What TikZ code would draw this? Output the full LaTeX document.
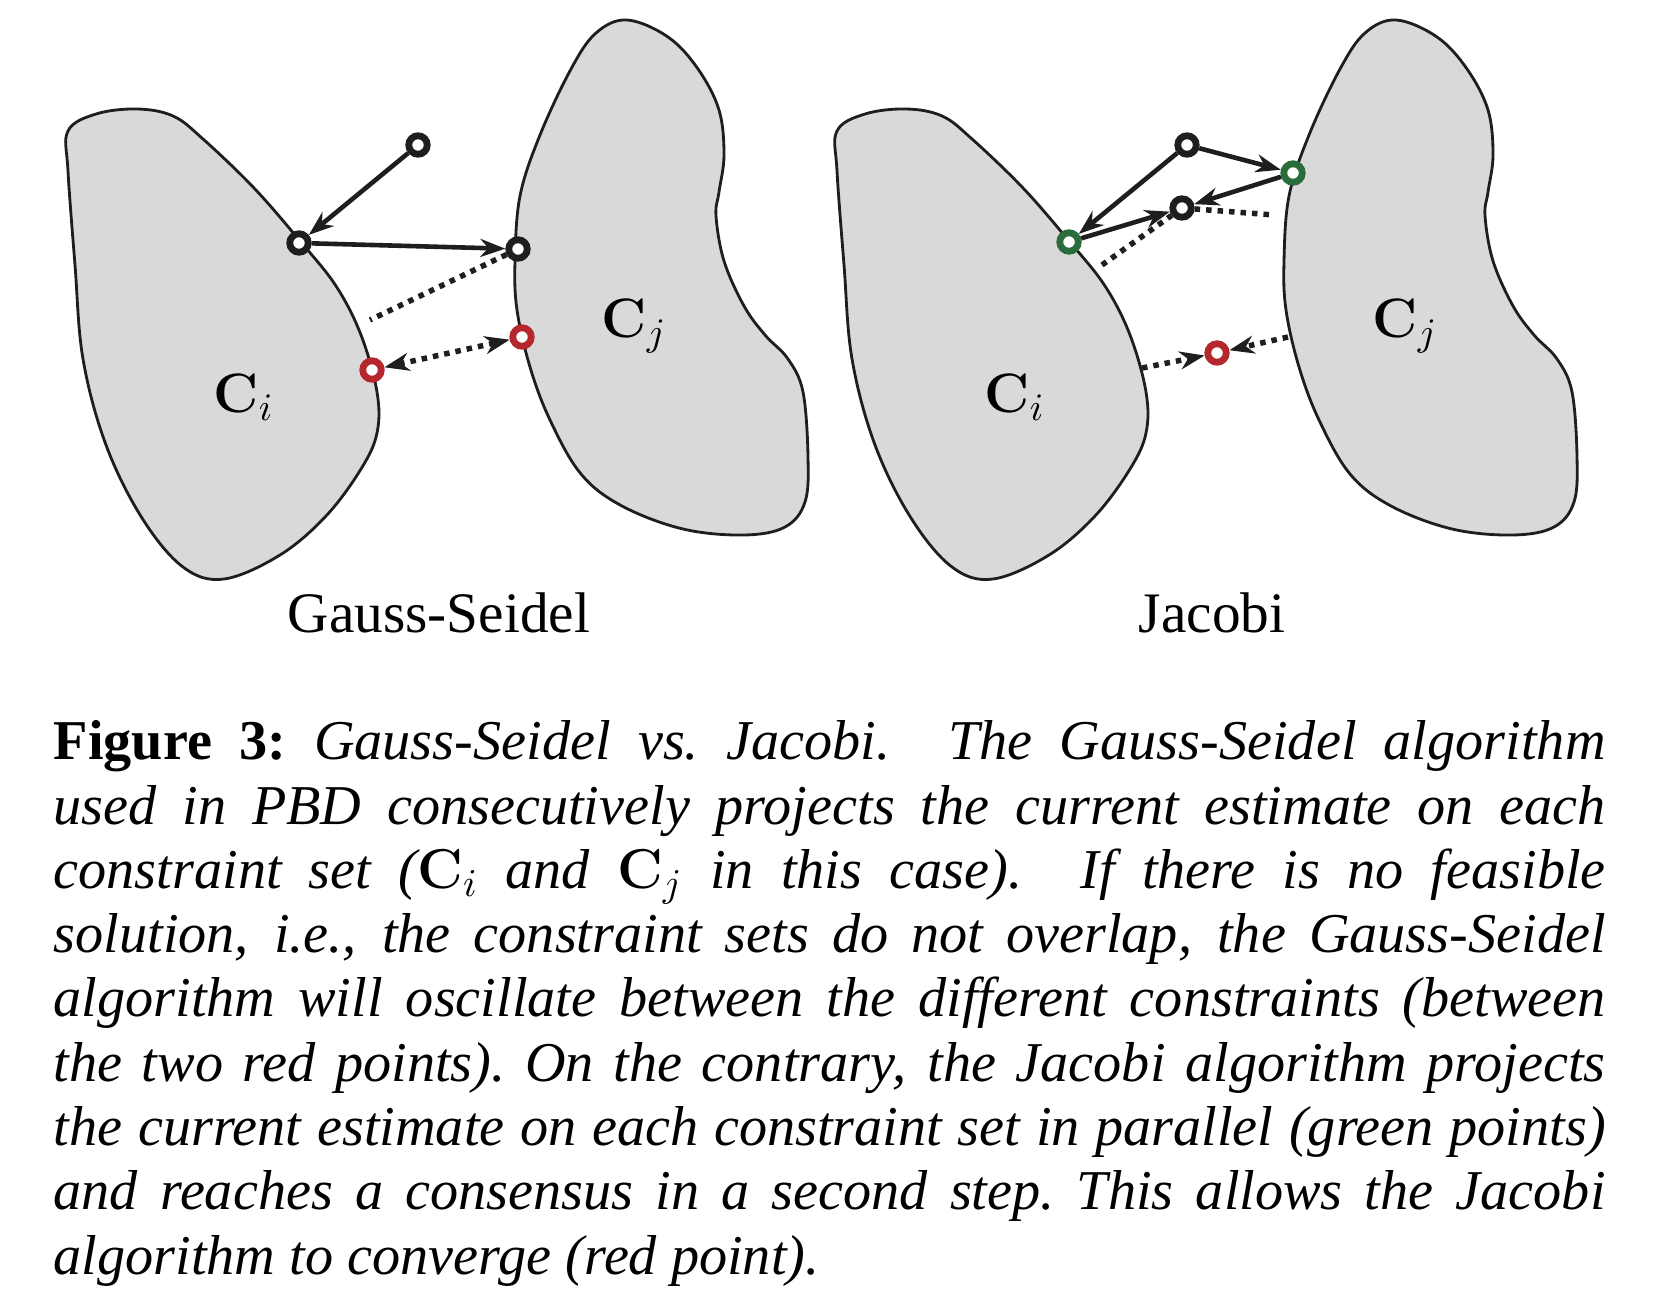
\RequirePackage{fix-cm}
\documentclass[tikz,border=0pt]{standalone}
\usepackage[no-math]{fontspec}
\setmainfont{Liberation Serif}
\usepackage{tikz}
\usetikzlibrary{calc, arrows.meta}
\tikzset{>={Stealth[length = 2.5mm, width = 1.8mm, inset = 0.8mm]}}
\definecolor{setgray}{RGB}{217, 217, 217}
\definecolor{ptred}{RGB}{180, 40, 45}
\definecolor{ptgreen}{RGB}{42, 108, 60}
\definecolor{ptblack}{RGB}{30, 30, 30}

\begin{document}
\begin{tikzpicture}[x = 0.1mm, y = -0.1mm,
  blob/.style = {draw = ptblack, fill = setgray, line width = 0.8pt},
  pt/.style = {circle, draw = ptblack, fill = white, line width = 0.68mm, minimum size = 1.85mm, inner sep = 0pt},
  proj/.style = {->, draw = ptblack, line width = 0.46mm},
  dots/.style = {draw = ptblack, line width = 0.55mm, dash pattern = on 0.55mm off 0.6mm},
  setlbl/.style = {anchor = base west, inner sep = 0pt, font = \fontsize{15.8}{19}\selectfont},
  title/.style = {anchor = base, inner sep = 0pt, font = \fontsize{16.3}{19}\selectfont}]
\useasboundingbox (0, 0) rectangle (1668, 1307);

% constraint sets C_i and C_j, same outlines in both panels
\foreach \dx in {0, 769} {
\draw[blob] plot[smooth cycle, tension = 0.6] coordinates {
  (68+\dx, 131) (96+\dx, 114) (137+\dx, 109) (173+\dx, 116) (203+\dx, 139)
  (254+\dx, 188) (300+\dx, 241) (336+\dx, 286) (361+\dx, 335) (377+\dx, 392)
  (377+\dx, 433) (361+\dx, 469) (326+\dx, 516) (280+\dx, 555) (224+\dx, 579)
  (183+\dx, 567) (142+\dx, 518) (106+\dx, 445) (83+\dx, 359) (75+\dx, 265)
  (68+\dx, 171)};
\draw[blob] plot[smooth cycle, tension = 0.6] coordinates {
  (627+\dx, 20) (668+\dx, 37) (698+\dx, 69) (719+\dx, 110) (724+\dx, 155)
  (719+\dx, 192) (716+\dx, 216) (724+\dx, 261) (744+\dx, 306) (765+\dx, 335)
  (788+\dx, 359) (803+\dx, 392) (808+\dx, 457) (805+\dx, 502) (785+\dx, 527)
  (744+\dx, 535) (683+\dx, 529) (622+\dx, 506) (581+\dx, 474) (550+\dx, 420)
  (530+\dx, 367) (517+\dx, 310) (515+\dx, 261) (520+\dx, 196) (540+\dx, 135)
  (571+\dx, 69) (596+\dx, 33)};
}

% Gauss-Seidel
\begin{scope}
\node[setlbl] (ci) at (213, 412) {$\mathbf{C}_i$};
\node[setlbl] (cj) at (601, 337) {$\mathbf{C}_j$};
\node[pt] (p0) at (418, 145) {};
\node[pt] (pi) at (299, 243) {};
\node[pt] (pj) at (518, 249) {};
\node[pt, draw = ptred] (ri) at (372, 370) {};
\node[pt, draw = ptred] (rj) at (522, 337) {};
\coordinate (gsend) at (370, 320);
\draw[proj] (p0) -- (pi);
\draw[proj] (pi) -- (pj);
\draw[dots] (pj) -- (gsend);
\draw[dots, <->] (ri) -- (rj);
\node[title] (gstitle) at (439, 632) {Gauss-Seidel};
\end{scope}

% Jacobi
\begin{scope}
\node[setlbl] (ci2) at (984, 412) {$\mathbf{C}_i$};
\node[setlbl] (cj2) at (1372, 337) {$\mathbf{C}_j$};
\node[pt] (q0) at (1187, 145) {};
\node[pt, draw = ptgreen] (gi) at (1069, 242) {};
\node[pt, draw = ptgreen] (gj) at (1293, 173) {};
\node[pt] (qm) at (1182, 208) {};
\node[pt, draw = ptred] (qr) at (1217, 353) {};
\coordinate (jl) at (1102, 265);
\coordinate (jr) at (1274, 215);
\coordinate (ji) at (1142, 368);
\coordinate (jj) at (1288, 337);
\draw[dots] (jl) -- (qm);
\draw[dots] (qm) -- (jr);
\draw[proj] (q0) -- (gi);
\draw[proj] (q0) -- (gj);
\draw[proj] (gi) -- (qm);
\draw[proj] (gj) -- (qm);
\draw[dots, ->] (ji) -- (qr);
\draw[dots, ->] (jj) -- (qr);
\node[title] (jtitle) at (1212, 632) {Jacobi};
\end{scope}

\node[anchor = north west, inner sep = 0pt, text width = 155.2mm, align = justify,
  font = \fontsize{16}{18.3}\selectfont] (caption) at (53, 720)
  {\textbf{Figure 3:}\enspace{\itshape Gauss-Seidel vs.\ Jacobi.  The Gauss-Seidel algorithm\linebreak
  used in PBD consecutively projects the current estimate on each\linebreak
  constraint set ($\mathbf{C}_i$ and $\mathbf{C}_j$ in this case).  If there is no feasible\linebreak
  solution, i.e., the constraint sets do not overlap, the Gauss-Seidel\linebreak
  algorithm will oscillate between the different constraints (between\linebreak
  the two red points).\ On the contrary, the Jacobi algorithm projects\linebreak
  the current estimate on each constraint set in parallel (green points)\linebreak
  and reaches a consensus in a second step.\ This allows the Jacobi\linebreak
  algorithm to converge (red point).}};
\end{tikzpicture}
\end{document}
